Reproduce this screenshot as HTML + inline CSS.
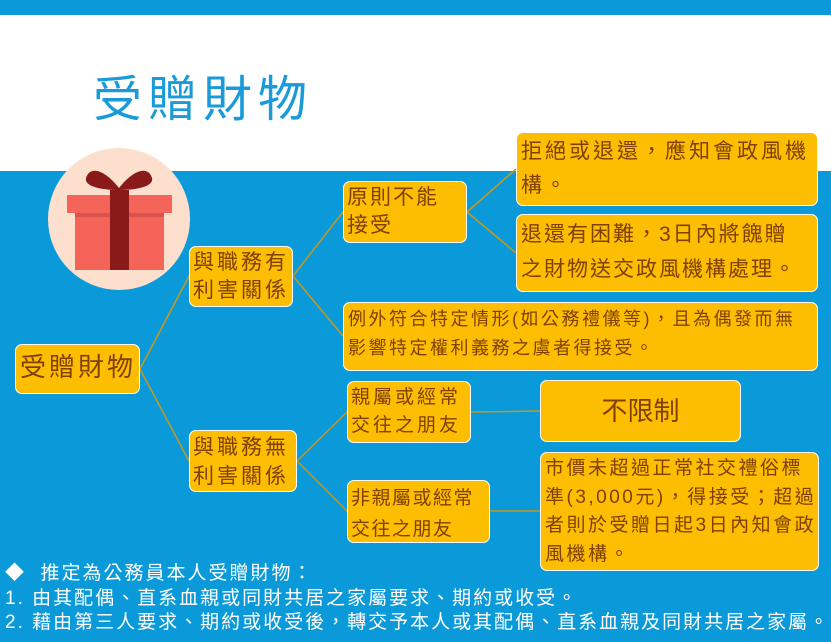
<!DOCTYPE html>
<html><head><meta charset="utf-8"><style>
body{margin:0;width:831px;height:642px;overflow:hidden;background:#0b9ad9;font-family:"Liberation Sans","Noto Sans CJK TC",sans-serif;position:relative}
.w{position:absolute;left:0;top:15px;width:831px;height:156px;background:#fff}
.t{position:absolute;left:93px;top:60px;font-size:49px;color:#1a9ad8;letter-spacing:6px}
.b{position:absolute;background:#fdbd00;border:1.5px solid #fff;border-radius:7px;color:#7f4000;box-sizing:border-box;padding:2px 5px;line-height:1.35;white-space:nowrap;overflow:hidden}
.x{position:absolute;color:#fff;font-size:19px;left:5px;letter-spacing:2px;white-space:nowrap}
svg{position:absolute;left:0;top:0}
</style></head><body>
<div class="w"></div>
<div class="t">受贈財物</div>
<svg width="831" height="642">
<g stroke="#c8981a" stroke-width="1.5" fill="none">
<line x1="140" y1="369" x2="189" y2="276"/>
<line x1="140" y1="369" x2="189" y2="461"/>
<line x1="293" y1="276" x2="343" y2="212"/>
<line x1="293" y1="276" x2="343" y2="336"/>
<line x1="467" y1="212" x2="516" y2="169"/>
<line x1="467" y1="212" x2="516" y2="253"/>
<line x1="297" y1="461" x2="347" y2="412"/>
<line x1="297" y1="461" x2="347" y2="511"/>
<line x1="471" y1="412" x2="540" y2="411"/>
<line x1="490" y1="511" x2="540" y2="511"/>
</g>
<circle cx="119" cy="219" r="71" fill="#fce0cd"/>
<rect x="75" y="200" width="89" height="70" fill="#f46458"/>
<rect x="67" y="195" width="105" height="18" fill="#f46458"/>
<rect x="75" y="213" width="89" height="4" fill="#d9534b"/>
<rect x="110" y="190" width="19" height="80" fill="#8a1a1a"/>
<path d="M119 188 C105 170 90 165 86 178 C84 186 100 190 119 190Z" fill="#8a1a1a"/>
<path d="M119 188 C133 170 148 165 152 178 C154 186 138 190 119 190Z" fill="#8a1a1a"/>
</svg>
<div class="b" style="left:15px;top:344px;width:125px;height:50px;font-size:26px;line-height:44px;padding:0 4px;letter-spacing:3px">受贈財物</div>
<div class="b" style="left:189px;top:246px;width:104px;height:61px;font-size:21px;line-height:28px;letter-spacing:3px;padding:2px 3px">與職務有<br>利害關係</div>
<div class="b" style="left:189px;top:430px;width:108px;height:62px;font-size:21px;line-height:29px;letter-spacing:3px;padding:2px 3px">與職務無<br>利害關係</div>
<div class="b" style="left:343px;top:181px;width:124px;height:62px;font-size:21px;line-height:28px;letter-spacing:2px;padding:2px 3px">原則不能<br>接受</div>
<div class="b" style="left:516px;top:132px;width:302px;height:74px;font-size:21px;line-height:34px;letter-spacing:3px;padding:2px 4px">拒絕或退還，應知會政風機<br>構。</div>
<div class="b" style="left:516px;top:214px;width:302px;height:78px;font-size:21px;line-height:35px;letter-spacing:2px;padding:2px 4px">退還有困難，3日內將餽贈<br>之財物送交政風機構處理。</div>
<div class="b" style="left:343px;top:302px;width:475px;height:69px;font-size:18px;line-height:29px;letter-spacing:2.5px;padding:2px 4px">例外符合特定情形(如公務禮儀等)，且為偶發而無<br>影響特定權利義務之虞者得接受。</div>
<div class="b" style="left:347px;top:381px;width:124px;height:62px;font-size:19px;line-height:28px;letter-spacing:3px;padding:2px 3px">親屬或經常<br>交往之朋友</div>
<div class="b" style="left:540px;top:380px;width:201px;height:62px;font-size:26px;line-height:56px;text-align:center">不限制</div>
<div class="b" style="left:347px;top:480px;width:143px;height:63px;font-size:19px;line-height:31px;letter-spacing:1.5px;padding:2px 3px">非親屬或經常<br>交往之朋友</div>
<div class="b" style="left:540px;top:452px;width:279px;height:119px;font-size:19px;line-height:28.5px;letter-spacing:2.5px;padding:2px 4px">市價未超過正常社交禮俗標<br>準(3,000元)，得接受；超過<br>者則於受贈日起3日內知會政<br>風機構。</div>
<div class="x" style="top:558px">◆&nbsp; 推定為公務員本人受贈財物：</div>
<div class="x" style="top:583px">1. 由其配偶、直系血親或同財共居之家屬要求、期約或收受。</div>
<div class="x" style="top:607px">2. 藉由第三人要求、期約或收受後，轉交予本人或其配偶、直系血親及同財共居之家屬。</div>
</body></html>
